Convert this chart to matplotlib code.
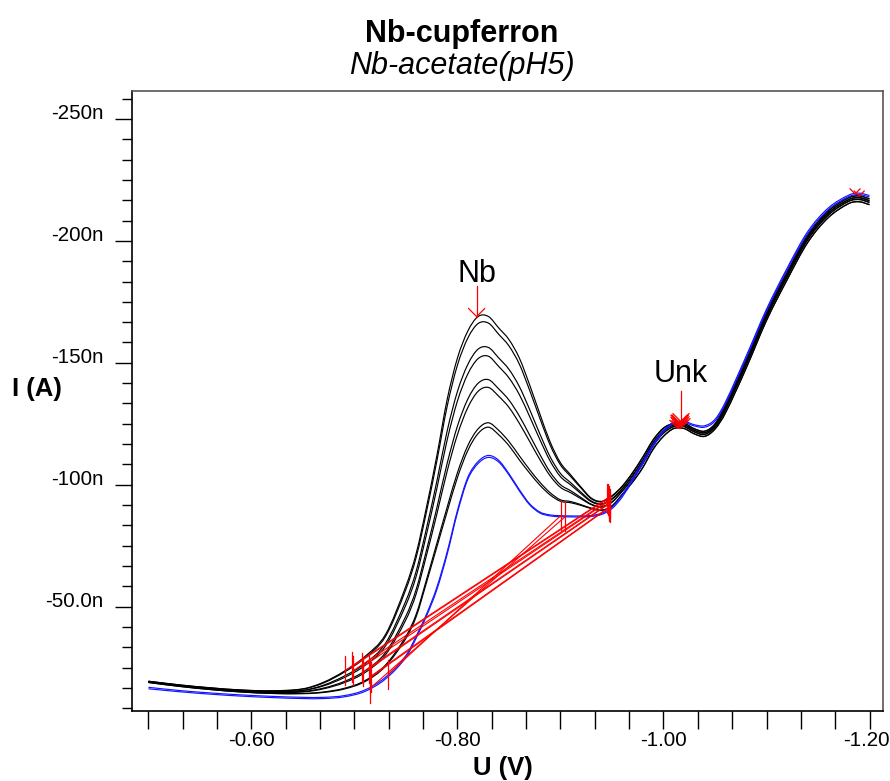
import numpy as np
import matplotlib
matplotlib.use("Agg")
import matplotlib.pyplot as plt
import matplotlib.transforms as mtransforms
from matplotlib.ticker import FixedLocator, FixedFormatter
from matplotlib.path import Path
from matplotlib.patches import PathPatch

plt.rcParams['font.family'] = ['Liberation Sans', 'DejaVu Sans']

# ---------------- data (potential in V, current in nA) ----------------
U = [-0.50, -0.53, -0.56, -0.59, -0.62, -0.65, -0.67, -0.69, -0.71, -0.73,
     -0.75, -0.76, -0.77, -0.78, -0.79, -0.80, -0.81, -0.82, -0.83, -0.84,
     -0.85, -0.86, -0.87, -0.88, -0.89, -0.90, -0.91, -0.92, -0.93, -0.94,
     -0.95, -0.96, -0.97, -0.98, -0.99, -1.00, -1.01, -1.02, -1.03, -1.04,
     -1.05, -1.06, -1.08, -1.10, -1.12, -1.14, -1.16, -1.18, -1.19, -1.20]

black_1 = [-19.4, -17.9, -16.7, -15.8, -15.5, -16.3, -19.0, -23.5, -29.5, -38.5,
           -58.5, -72.0, -91.0, -112.0, -135.0, -152.0, -163.0, -169.0, -169.0, -164.3,
           -159.5, -152.0, -141.0, -129.0, -117.5, -109.0, -104.0, -99.0, -94.5, -93.2,
           -95.5, -99.5, -105.0, -111.5, -118.5, -123.3, -125.2, -125.2, -123.0, -122.0,
           -125.0, -132.5, -151.0, -170.5, -187.2, -202.3, -212.3, -217.8, -218.5, -217.3]
black_2 = [-19.4, -17.9, -16.7, -15.8, -15.4, -16.2, -18.7, -23.1, -28.9, -37.7,
           -57.2, -70.4, -89.1, -109.8, -132.2, -149.1, -160.1, -166.1, -166.3, -161.7,
           -156.9, -149.5, -138.8, -127.2, -116.2, -108.1, -103.3, -98.6, -94.2, -93.0,
           -95.2, -99.3, -104.8, -111.2, -118.3, -123.1, -125.1, -125.1, -122.9, -121.9,
           -124.9, -132.3, -150.8, -170.3, -187.0, -202.1, -212.1, -217.7, -218.4, -217.2]
black_3 = [-19.3, -17.7, -16.5, -15.6, -15.2, -15.7, -17.8, -21.5, -26.6, -34.9,
           -52.5, -64.7, -82.3, -101.5, -122.1, -138.3, -149.3, -155.6, -156.3, -152.0,
           -147.3, -140.3, -130.9, -120.8, -111.4, -104.6, -100.8, -96.9, -93.3, -92.2,
           -94.3, -98.5, -103.9, -110.2, -117.4, -122.3, -124.6, -124.6, -122.4, -121.4,
           -124.4, -131.6, -150.0, -169.6, -186.3, -201.5, -211.5, -217.1, -217.8, -216.6]
black_4 = [-19.2, -17.7, -16.4, -15.5, -15.1, -15.6, -17.5, -20.9, -25.8, -33.8,
           -50.8, -62.6, -79.8, -98.5, -118.4, -134.4, -145.4, -151.7, -152.7, -148.5,
           -143.8, -137.0, -128.0, -118.5, -109.7, -103.3, -99.9, -96.3, -93.0, -91.9,
           -94.0, -98.2, -103.6, -109.9, -117.1, -122.0, -124.4, -124.4, -122.2, -121.2,
           -124.2, -131.3, -149.7, -169.3, -186.0, -201.2, -211.3, -216.9, -217.6, -216.4]
black_5 = [-19.1, -17.6, -16.3, -15.3, -14.9, -15.2, -16.6, -19.3, -23.6, -31.1,
           -46.2, -57.2, -73.3, -90.6, -108.8, -124.1, -135.1, -141.6, -143.1, -139.3,
           -134.7, -128.2, -120.4, -112.4, -105.1, -100.0, -97.5, -94.7, -92.0, -91.1,
           -93.0, -97.5, -102.7, -108.9, -116.2, -121.3, -123.9, -123.9, -121.7, -120.7,
           -123.7, -130.7, -149.0, -168.7, -185.4, -200.6, -210.7, -216.4, -217.1, -215.9]
black_6 = [-19.1, -17.5, -16.3, -15.3, -14.8, -15.0, -16.3, -18.8, -22.9, -30.2,
           -44.7, -55.4, -71.2, -88.0, -105.6, -120.6, -131.6, -138.3, -139.9, -136.3,
           -131.7, -125.2, -117.8, -110.3, -103.6, -98.9, -96.7, -94.2, -91.8, -90.8,
           -92.8, -97.3, -102.4, -108.6, -116.0, -121.1, -123.8, -123.8, -121.6, -120.6,
           -123.6, -130.5, -148.8, -168.5, -185.2, -200.4, -210.5, -216.2, -216.9, -215.7]
black_7 = [-18.9, -17.3, -16.0, -15.0, -14.4, -14.4, -15.0, -16.5, -19.6, -26.0,
           -37.9, -47.0, -61.2, -76.0, -90.8, -105.0, -116.0, -122.9, -125.4, -122.3,
           -117.7, -111.9, -106.2, -101.0, -96.7, -93.8, -93.1, -91.8, -90.4, -89.6,
           -91.4, -96.1, -101.2, -107.2, -114.7, -119.9, -123.1, -123.1, -120.9, -119.9,
           -122.9, -129.4, -147.6, -167.4, -184.1, -199.4, -209.6, -215.4, -216.1, -214.9]
black_8 = [-18.9, -17.3, -16.0, -15.0, -14.4, -14.3, -14.8, -16.2, -19.2, -25.5,
           -37.0, -46.0, -60.0, -74.5, -89.0, -103.0, -114.0, -121.0, -123.6, -120.5,
           -116.0, -110.2, -104.8, -99.8, -95.8, -93.2, -92.6, -91.5, -90.2, -89.5,
           -91.2, -96.0, -101.0, -107.0, -114.5, -119.8, -123.0, -123.0, -120.8, -119.8,
           -122.8, -129.3, -147.5, -167.3, -184.0, -199.3, -209.5, -215.3, -216.0, -214.8]
blue_1 = [-16.9, -15.6, -14.6, -13.8, -13.2, -12.8, -12.8, -13.5, -15.8, -21.0,
          -30.0, -38.0, -47.0, -58.0, -72.5, -89.5, -103.0, -109.5, -112.0, -110.0,
          -104.5, -98.0, -92.2, -88.8, -87.6, -87.3, -87.2, -87.2, -87.4, -88.3,
          -90.8, -95.8, -102.5, -109.5, -116.5, -122.3, -125.5, -126.0, -124.6, -124.2,
          -126.8, -133.8, -152.5, -172.0, -188.8, -203.8, -213.5, -218.8, -219.6, -218.6]
blue_2 = [-16.3, -15.1, -14.1, -13.3, -12.7, -12.3, -12.3, -13.0, -15.2, -20.3,
          -29.2, -37.2, -46.2, -57.0, -71.5, -88.6, -102.2, -108.7, -111.2, -109.3,
          -104.0, -97.5, -91.8, -88.4, -87.2, -86.9, -86.8, -86.8, -87.0, -87.8,
          -90.2, -95.0, -101.7, -108.7, -115.8, -121.7, -125.0, -125.5, -124.1, -123.6,
          -126.1, -133.0, -151.6, -171.2, -188.0, -203.0, -212.8, -218.2, -219.0, -218.0]

black_curves = [black_1, black_2, black_3, black_4, black_5, black_6, black_7, black_8]
blue_curves = [blue_1, blue_2]

# Nb peak baselines (start / end potentials), black curves then blue curves
baseline_start = [-0.6908, -0.6973, -0.6988, -0.7070, -0.7086, -0.7144, -0.7151, -0.7160,
                  -0.7328, -0.7151]
baseline_end = [-0.9455, -0.9460, -0.9465, -0.9470, -0.9475, -0.9480, -0.9475, -0.9480,
                -0.9002, -0.9044]

# peak annotations
nb_peak_U = -0.8186
unk_peak_U = [-1.015, -1.016, -1.017, -1.015, -1.016, -1.018, -1.014, -1.016, -1.017, -1.016]
end_peak_U = [-1.186, -1.190]

y_ticks = [-250, -200, -150, -100, -50]
y_labels = ['-250n', '-200n', '-150n', '-100n', '-50.0n']
x_ticks = [-0.60, -0.80, -1.00, -1.20]
x_labels = ['-0.60', '-0.80', '-1.00', '-1.20']

# ---------------- figure ----------------
W, H = 890, 781
fig = plt.figure(figsize=(W / 100, H / 100), dpi=100)
ax = fig.add_axes([132.3 / W, 1 - 710.5 / H, (883 - 132.3) / W, (710.5 - 90.7) / H])
ax.set_xlim(-0.4843, -1.2131)
ax.set_ylim(-7.4, -261.6)

Ua = np.array(U)


def smooth_line(x, y, **kw):
    """Draw a smooth (cubic Hermite / Bezier) line through the data points."""
    x = np.asarray(x, float)
    y = np.asarray(y, float)
    n = len(x)
    m = np.empty(n)
    m[1:-1] = (y[2:] - y[:-2]) / (x[2:] - x[:-2])
    m[0] = (y[1] - y[0]) / (x[1] - x[0])
    m[-1] = (y[-1] - y[-2]) / (x[-1] - x[-2])
    verts = [(x[0], y[0])]
    codes = [Path.MOVETO]
    for i in range(n - 1):
        h = x[i + 1] - x[i]
        verts += [(x[i] + h / 3, y[i] + m[i] * h / 3),
                  (x[i + 1] - h / 3, y[i + 1] - m[i + 1] * h / 3),
                  (x[i + 1], y[i + 1])]
        codes += [Path.CURVE4] * 3
    ax.add_patch(PathPatch(Path(verts, codes), fill=False, **kw))


lw = 0.85
for c in black_curves:
    smooth_line(Ua, c, edgecolor='black', lw=lw, zorder=2)
for c in blue_curves:
    smooth_line(Ua, c, edgecolor='#1414ff', lw=lw, zorder=3)


def val(curve, u):
    return float(np.interp(-u, -Ua, np.array(curve)))


red = '#ff0000'
all_curves = black_curves + blue_curves
mk = 6.0
for c, u0, u1 in zip(all_curves, baseline_start, baseline_end):
    v0, v1 = val(c, u0), val(c, u1)
    ax.plot([u0, u1], [v0, v1], color=red, lw=0.8, zorder=4)
    ax.plot([u0, u0], [v0 - mk, v0 + mk], color=red, lw=0.9, zorder=4)
    ax.plot([u1, u1], [v1 - mk, v1 + mk], color=red, lw=0.9, zorder=4)


def vhead(u, v, px=8):
    du = px / 1030.0
    dv = px / 2.44
    ax.plot([u - du, u, u + du], [v - dv, v, v - dv], color=red, lw=0.9, zorder=5)


# Nb arrow
tip = val(black_1, nb_peak_U) - 0.8
vhead(nb_peak_U, tip)
ax.plot([nb_peak_U, nb_peak_U], [tip, tip - 12.7], color=red, lw=0.9, zorder=5)
ax.text(nb_peak_U, tip - 12.7 - 1.4, 'Nb', ha='center', va='baseline', fontsize=22)

# Unk arrows
for c, u in zip(all_curves, unk_peak_U):
    vhead(u, val(c, u))
utip = val(blue_1, unk_peak_U[8])
ax.plot([unk_peak_U[8], unk_peak_U[8]], [utip, utip - 12.7], color=red, lw=0.9, zorder=5)
ax.text(unk_peak_U[8], utip - 12.7 - 3.6, 'Unk', ha='center', va='baseline', fontsize=22)

# small markers at the final hump
for c, u in zip([blue_1, black_2], end_peak_U):
    vhead(u, val(c, u), px=5)

# ---------------- axes styling ----------------
ax.xaxis.set_major_locator(FixedLocator(x_ticks))
ax.xaxis.set_major_formatter(FixedFormatter(x_labels))
ax.xaxis.set_minor_locator(FixedLocator(list(np.linspace(-0.5, -1.2, 22))))
ax.yaxis.set_major_locator(FixedLocator(y_ticks))
ax.yaxis.set_major_formatter(FixedFormatter(y_labels))
ax.yaxis.set_minor_locator(FixedLocator(list(np.arange(-258.3333, -5, 50 / 6))))

ax.tick_params(axis='x', which='both', direction='out', length=13, width=1.0,
               labelsize=14.8, pad=1.5)
ax.tick_params(axis='y', which='major', direction='out', length=12, width=1.0,
               labelsize=14.8, pad=8.5)
ax.tick_params(axis='y', which='minor', direction='out', length=7, width=1.0)
for t in ax.yaxis.get_major_ticks():
    t.label1.set_verticalalignment('baseline')
# keep the last x label inside the figure
xt = ax.xaxis.get_major_ticks()
xt[-1].label1.set_transform(xt[-1].label1.get_transform() +
                            mtransforms.ScaledTranslation(-0.035, 0, fig.dpi_scale_trans))

for s in ['left', 'bottom']:
    ax.spines[s].set_color('black')
    ax.spines[s].set_linewidth(1.2)
for s in ['top', 'right']:
    ax.spines[s].set_color('#555555')
    ax.spines[s].set_linewidth(1.2)

# titles and axis labels
fig.text(462 / W, 1 - 41.7 / H, 'Nb-cupferron', ha='center', va='baseline',
         fontsize=22, fontweight='bold')
fig.text(461.5 / W, 1 - 74 / H, 'Nb-acetate(pH5)', ha='center', va='baseline',
         fontsize=22, fontstyle='italic')
fig.text(12 / W, 1 - 396 / H, 'I (A)', ha='left', va='baseline', fontsize=18.5,
         fontweight='bold')
fig.text(503 / W, 1 - 775 / H, 'U (V)', ha='center', va='baseline', fontsize=18.5,
         fontweight='bold')

fig.savefig('out.png', dpi=100)
